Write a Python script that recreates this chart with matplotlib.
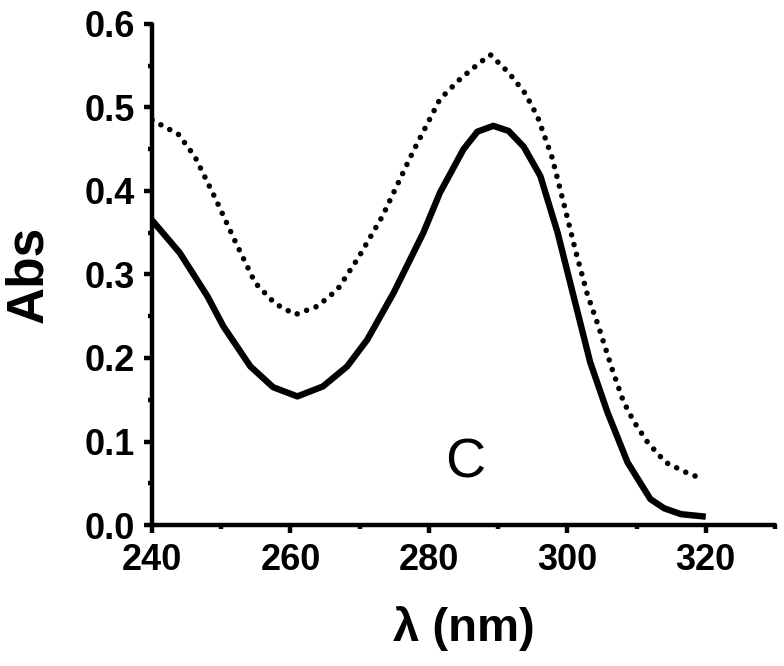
import matplotlib
matplotlib.use("Agg")
import matplotlib.pyplot as plt
from matplotlib.ticker import MultipleLocator

plt.rcParams['font.family'] = ['Liberation Sans', 'DejaVu Sans']

# solid trace
wl_solid = [240, 244, 248, 250.3, 254.2, 257.5, 261, 264.7, 268.2, 271.1, 274.9,
            279.2, 281.6, 285, 287, 289.3, 291.5, 293.7, 296.1, 298.6, 300.9,
            303.3, 305.8, 308.7, 312, 314, 316.4, 320]
abs_solid = [0.365, 0.326, 0.274, 0.238, 0.190, 0.165, 0.154, 0.166, 0.190, 0.222, 0.278,
             0.350, 0.398, 0.450, 0.471, 0.478, 0.472, 0.453, 0.418, 0.350, 0.274,
             0.195, 0.135, 0.075, 0.031, 0.020, 0.013, 0.010]

# dotted trace
wl_dot = [240, 243.8, 246.2, 249.1, 252, 254.9, 257.8, 260.7, 263.9, 266.8, 269.8,
          273.3, 277.7, 281.6, 284.5, 287.4, 288.9, 291.5, 293.9, 295.7, 297.8,
          299.7, 301.2, 302.9, 304.5, 306.5, 308.1, 309.6, 311.6, 314.2, 317.4, 319]
abs_dot = [0.485, 0.468, 0.441, 0.392, 0.340, 0.290, 0.265, 0.252, 0.262, 0.282, 0.320,
           0.370, 0.447, 0.510, 0.534, 0.554, 0.563, 0.542, 0.517, 0.489, 0.440,
           0.378, 0.328, 0.276, 0.238, 0.186, 0.148, 0.124, 0.099, 0.075, 0.062, 0.057]

fig = plt.figure(figsize=(7.84, 6.66), dpi=100)
ax = fig.add_axes([0.1939, 0.2117, 0.7946, 0.7523])

ax.plot(wl_solid, abs_solid, color='black', lw=4.6, solid_capstyle='butt',
        solid_joinstyle='round')
ax.plot(wl_dot, abs_dot, color='black', lw=4.0, linestyle=(0, (0.01, 1.8)),
        dash_capstyle='round')

ax.text(285.3, 0.074, 'C', fontsize=40, ha='center', va='center')

ax.set_xlim(240, 330)
ax.set_ylim(0, 0.6)
ax.xaxis.set_major_locator(MultipleLocator(20))
ax.xaxis.set_minor_locator(MultipleLocator(10))
ax.yaxis.set_major_locator(MultipleLocator(0.1))
ax.yaxis.set_minor_locator(MultipleLocator(0.05))
ax.yaxis.set_major_formatter(lambda v, p: f'{v:.1f}')

for s in ['top', 'right']:
    ax.spines[s].set_visible(False)
for s in ['left', 'bottom']:
    ax.spines[s].set_linewidth(3.2)
    ax.spines[s].set_capstyle('round')

ax.tick_params(which='major', length=6, width=3.2, direction='out', labelsize=26)
ax.tick_params(which='minor', length=3, width=3.2, direction='out')
ax.tick_params(axis='x', which='major', pad=7)
ax.tick_params(axis='y', which='major', pad=6)
for lab in ax.get_xticklabels() + ax.get_yticklabels():
    lab.set_fontweight('bold')

ax.set_xlabel('λ (nm)', fontsize=34, fontweight='bold', labelpad=20)
ax.set_ylabel('Abs', fontsize=37, fontweight='bold', labelpad=23)

fig.savefig('out.png', dpi=100)
